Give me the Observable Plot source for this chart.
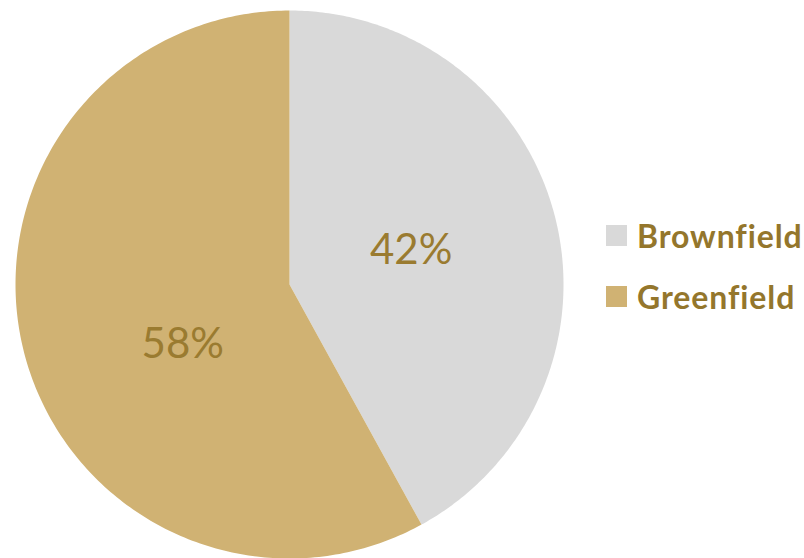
<!DOCTYPE html>
<html><head><meta charset="utf-8">
<script src="https://cdn.jsdelivr.net/npm/d3@7"></script>
<script src="https://cdn.jsdelivr.net/npm/@observablehq/plot@0.6"></script>
<style>
body{margin:0;background:#fff;}
#wrap{position:relative;width:804px;height:558px;overflow:hidden;}
.item{position:absolute;left:606px;display:flex;align-items:center;font-family:Lato,sans-serif;font-weight:bold;font-size:32px;letter-spacing:0.9px;color:#94762C;white-space:nowrap;}
.sw{width:21px;height:21px;margin-right:10px;}
</style>
</head><body>
<div id="wrap"></div>
<script>
const categories = ["Brownfield", "Greenfield"];
const shares = [42, 58];
const colors = ["#D9D9D9", "#D0B273"];
const labels = ["42%", "58%"];

const data = categories.map((c, i) => ({category: c, value: shares[i], label: labels[i]}));
const arcs = d3.pie().sort(null).value(d => d.value)(data);

const pts = [];
for (const a of arcs) {
  const n = 240;
  pts.push({category: a.data.category, x: 0, y: 0});
  for (let k = 0; k <= n; k++) {
    const t = a.startAngle + (a.endAngle - a.startAngle) * k / n;
    pts.push({category: a.data.category, x: Math.sin(t), y: Math.cos(t)});
  }
  pts.push({category: a.data.category, x: 0, y: 0});
}
const cents = arcs.map(a => {
  const m = (a.startAngle + a.endAngle) / 2;
  return {category: a.data.category, label: a.data.label, x: 0.5 * Math.sin(m), y: 0.5 * Math.cos(m)};
});

const chart = Plot.plot({
  width: 804, height: 558,
  marginLeft: 15, marginRight: 241, marginTop: 10, marginBottom: 0,
  x: {domain: [-1, 1], axis: null},
  y: {domain: [-1, 1], axis: null},
  color: {domain: categories, range: colors},
  style: {background: "transparent"},
  marks: [
    Plot.line(pts, {x: "x", y: "y", z: "category", fill: "category", stroke: null, curve: "linear"}),
    Plot.text(cents.filter(d => d.category === categories[0]), {x: "x", y: "y", text: "label", fill: "#9A7B30", fontSize: 42, fontFamily: "Lato, sans-serif", dx: -11, dy: 0}),
    Plot.text(cents.filter(d => d.category === categories[1]), {x: "x", y: "y", text: "label", fill: "#9A7B30", fontSize: 42, fontFamily: "Lato, sans-serif", dx: 26, dy: 26})
  ]
});
const wrap = document.getElementById("wrap");
wrap.appendChild(chart);
categories.forEach((c, i) => {
  const it = document.createElement("div");
  it.className = "item";
  it.style.top = (216 + i * 61) + "px";
  const sw = document.createElement("div");
  sw.className = "sw";
  sw.style.background = colors[i];
  const tx = document.createElement("span");
  tx.textContent = c;
  it.appendChild(sw); it.appendChild(tx);
  wrap.appendChild(it);
});
</script>
</body></html>
